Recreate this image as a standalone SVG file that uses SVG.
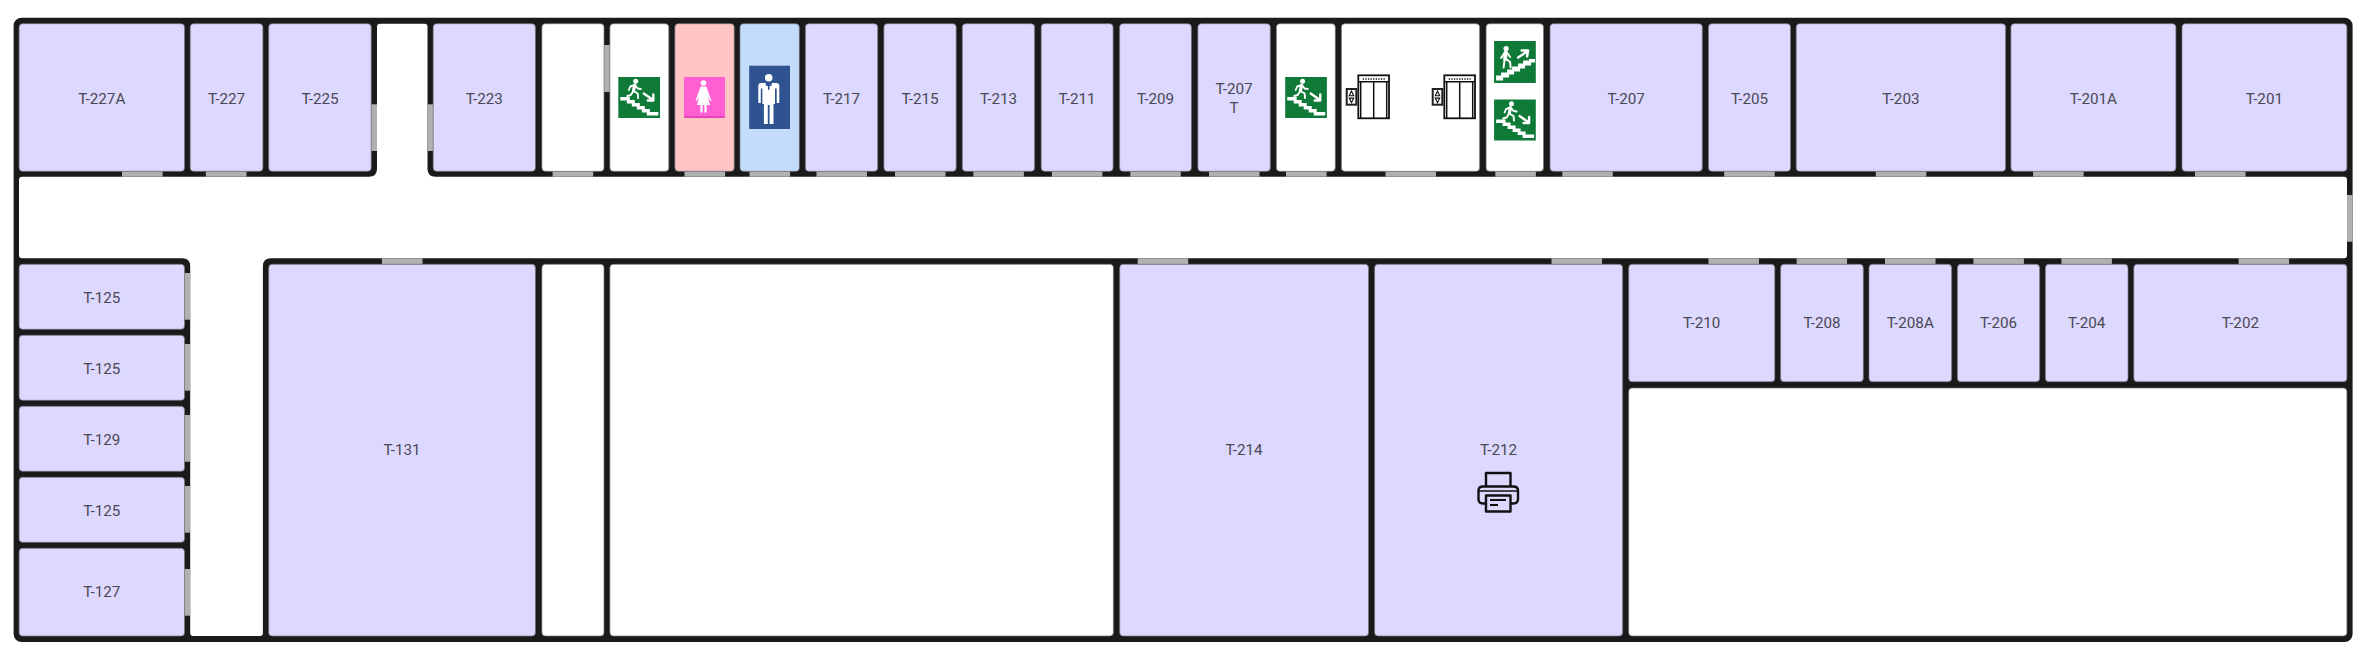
<svg xmlns="http://www.w3.org/2000/svg" xmlns:xlink="http://www.w3.org/1999/xlink" width="2366" height="660" viewBox="0 0 2366 660">
<style>
.r{fill:#dcd8fe}.w{fill:#fff}.p{fill:#ffc4c4}.b{fill:#c4dcfc}
.r,.w,.p,.b{stroke:#77757f;stroke-width:.7}
.d{fill:#b0b0b0}
text{font-family:Roboto,"Liberation Sans",sans-serif;font-size:15.2px;fill:#4a4855;text-anchor:middle}
.sw{fill:none;stroke:#fff;stroke-linecap:round;stroke-linejoin:round}
.k{fill:#fff;stroke:#111;stroke-width:1.8}
.pr{fill:none;stroke:#111;stroke-width:2.4;stroke-linejoin:round}
</style>
<defs>
<g id="exit-down">
<rect width="41.7" height="41" fill="#0f7a38"/>
<path fill="#fff" d="M2,20H11.5V23H16.5V26H21.5V29H26.5V32H31.5V35H40V38.5H28.5V35.5H23.5V32.5H18.5V29.5H13.5V26.5H8.5V23.5H2Z"/>
<circle cx="17.4" cy="4.3" r="2.5" fill="#fff"/>
<path class="sw" stroke-width="3.2" d="M16.5,8.2L15.2,13.5"/>
<path class="sw" stroke-width="1.9" d="M15,14L19.5,16.5L19.8,21M15,14L12.5,18L9,19M16.5,8L12,9.5L10.5,13M16.5,8L19.5,11.5L22.5,12"/>
<path class="sw" stroke-width="2.4" d="M25.5,16.5L34,22.5M35,17.5L35,23.5L29.5,23.5"/>
</g>
<g id="exit-up">
<rect width="41.7" height="42" fill="#0f7a38"/>
<path fill="#fff" d="M2,34.5H7V31.5H13V28.5H18V25.5H24V22.5H29V19.5H35V18H41V21.5H37V24.5H31V27.5H26V30.5H20V33.5H15V36.5H9V39.5H2Z"/>
<circle cx="12" cy="7.5" r="2.6" fill="#fff"/>
<path class="sw" stroke-width="3.8" d="M11.5,12L11,18"/>
<path class="sw" stroke-width="2" d="M10.5,18L9.5,26.5M12,18L16,21L16.5,26.5M11,11L7,17M12.5,11L16,16"/>
<path class="sw" stroke-width="2.4" d="M24,16.5L33,10.5M27.5,9.5L34,9.5L33,15.5"/>
</g>
<g id="lift">
<rect x="11.6" y="0" width="30.7" height="43" class="k"/>
<path fill="none" stroke="#111" stroke-width="1.5" d="M11.6,6.5H42.3M14,6.5V43M40,6.5V43M27,6.5V43"/>
<path fill="none" stroke="#111" stroke-width="1.6" stroke-dasharray="1.3 1.3" d="M16,3.7H38"/>
<rect x="0" y="13.7" width="9.6" height="15.7" fill="#fff" stroke="#222" stroke-width="2"/>
<path fill="none" stroke="#111" stroke-width="1.1" d="M4.8,15.8L2.6,20.5H7ZM4.8,27.4L2.6,22.8H7Z"/>
</g>
</defs>

<g id="walls">
<rect x="13.6" y="17.7" width="2339" height="624.3" rx="8" fill="#1a1a1a"/>
</g>

<g id="corridor">
<path fill="#fff" d="M377,26.7Q377,23.7 380,23.7H424.5Q427.5,23.7 427.5,26.7V168.7Q427.5,176.7 435.5,176.7H2344Q2347,176.7 2347,179.7V255.3Q2347,258.3 2344,258.3H270.9Q262.9,258.3 262.9,266.3V633Q262.9,636 259.9,636H193.2Q190.2,636 190.2,633V266.3Q190.2,258.3 182.2,258.3H22Q19,258.3 19,255.3V179.7Q19,176.7 22,176.7H369Q377,176.7 377,168.7Z"/>
</g>

<g id="doors">
<rect class="d" x="122" y="171.3" width="40.6" height="5.4"/>
<rect class="d" x="205.9" y="171.3" width="40.6" height="5.4"/>
<rect class="d" x="552.6" y="171.3" width="40.6" height="5.4"/>
<rect class="d" x="684.5" y="171.3" width="40.6" height="5.4"/>
<rect class="d" x="749.5" y="171.3" width="40.6" height="5.4"/>
<rect class="d" x="816.5" y="171.3" width="50.5" height="5.4"/>
<rect class="d" x="895" y="171.3" width="50.5" height="5.4"/>
<rect class="d" x="973.4" y="171.3" width="50.5" height="5.4"/>
<rect class="d" x="1051.9" y="171.3" width="50.5" height="5.4"/>
<rect class="d" x="1130.3" y="171.3" width="50.5" height="5.4"/>
<rect class="d" x="1209" y="171.3" width="50.5" height="5.4"/>
<rect class="d" x="1286" y="171.3" width="40.6" height="5.4"/>
<rect class="d" x="1385.5" y="171.3" width="50.5" height="5.4"/>
<rect class="d" x="1495.3" y="171.3" width="40.6" height="5.4"/>
<rect class="d" x="1562.3" y="171.3" width="50.5" height="5.4"/>
<rect class="d" x="1724.2" y="171.3" width="50.5" height="5.4"/>
<rect class="d" x="1875.8" y="171.3" width="50.5" height="5.4"/>
<rect class="d" x="2033.1" y="171.3" width="50.5" height="5.4"/>
<rect class="d" x="2195" y="171.3" width="50.5" height="5.4"/>
<rect class="d" x="381.9" y="258.3" width="40.6" height="5.7"/>
<rect class="d" x="1137.7" y="258.3" width="50.5" height="5.7"/>
<rect class="d" x="1551.5" y="258.3" width="50.5" height="5.7"/>
<rect class="d" x="1708.5" y="258.3" width="50.5" height="5.7"/>
<rect class="d" x="1796.6" y="258.3" width="50.5" height="5.7"/>
<rect class="d" x="1885" y="258.3" width="50.5" height="5.7"/>
<rect class="d" x="1973.4" y="258.3" width="50.5" height="5.7"/>
<rect class="d" x="2061.4" y="258.3" width="50.5" height="5.7"/>
<rect class="d" x="2238.6" y="258.3" width="50.5" height="5.7"/>
<rect class="d" x="371.2" y="104.3" width="5.8" height="46.7"/>
<rect class="d" x="427.5" y="104.3" width="5.7" height="46.7"/>
<rect class="d" x="604" y="45" width="5.9" height="47"/>
<rect class="d" x="2347" y="195" width="5.6" height="46.7"/>
<rect class="d" x="184.5" y="273" width="5.7" height="46.7"/>
<rect class="d" x="184.5" y="344" width="5.7" height="46.7"/>
<rect class="d" x="184.5" y="415" width="5.7" height="46.7"/>
<rect class="d" x="184.5" y="486" width="5.7" height="46.7"/>
<rect class="d" x="184.5" y="569" width="5.7" height="46.7"/>
</g>

<g id="room-T-227A"><rect class="r" x="19.1" y="23.7" width="165.4" height="147.6" rx="3.5"/><text x="101.8" y="103.5">T-227A</text></g>
<g id="room-T-227"><rect class="r" x="190.2" y="23.7" width="72.7" height="147.6" rx="3.5"/><text x="226.5" y="103.5">T-227</text></g>
<g id="room-T-225"><rect class="r" x="268.7" y="23.7" width="102.5" height="147.6" rx="3.5"/><text x="320" y="103.5">T-225</text></g>
<g id="room-T-223"><rect class="r" x="433.2" y="23.7" width="102.2" height="147.6" rx="3.5"/><text x="484.3" y="103.5">T-223</text></g>
<g id="room-blank-1"><rect class="w" x="541.9" y="23.7" width="62.1" height="147.6" rx="3.5"/></g>
<g id="room-stairs-1"><rect class="w" x="609.9" y="23.7" width="58.9" height="147.6" rx="3.5"/><use href="#exit-down" x="618.3" y="77"/></g>
<g id="room-wc-f"><rect class="p" x="674.9" y="23.7" width="59.3" height="147.6" rx="3.5"/>
<rect x="684" y="77" width="41" height="41" rx="1.5" fill="#e63fb8"/><rect x="684" y="77" width="41" height="39.3" rx="1.5" fill="#ff5fd3"/>
<circle cx="703.5" cy="83" r="2.8" fill="#fff"/>
<path fill="#fff" d="M700.5,86.5H706.5L709,94L711.5,100.5L710.2,101L707.8,96.5L710,105H706.6V112.5H704.4V105H702.6V112.5H700.4V105H697L699.2,96.5L696.8,101L695.5,100.5L698,94Z"/>
</g>
<g id="room-wc-m"><rect class="b" x="740" y="23.7" width="59.3" height="147.6" rx="3.5"/>
<rect x="749.2" y="65.7" width="40.8" height="63.3" fill="#2f5290"/>
<circle cx="768.7" cy="77.7" r="3.8" fill="#fff"/>
<path fill="#fff" d="M761,83H765.5L768.7,87L772,83H776.5Q779.3,83 779.3,86V103H776.7V88.5H775V104H773.5V124H769.6V105H767.8V124H763.9V104H762.4V88.5H760.8V103H758.3V86Q758.3,83 761,83Z"/>
<path fill="#2f5290" d="M765.8,82.5L768.7,84.5L771.6,82.5V86L769.7,85.6L769.3,90H768.1L767.7,85.6L765.8,86Z"/>
</g>
<g id="room-T-217"><rect class="r" x="805.4" y="23.7" width="72.3" height="147.6" rx="3.5"/><text x="841.5" y="103.5">T-217</text></g>
<g id="room-T-215"><rect class="r" x="883.9" y="23.7" width="72.3" height="147.6" rx="3.5"/><text x="920" y="103.5">T-215</text></g>
<g id="room-T-213"><rect class="r" x="962.3" y="23.7" width="72.3" height="147.6" rx="3.5"/><text x="998.5" y="103.5">T-213</text></g>
<g id="room-T-211"><rect class="r" x="1041.2" y="23.7" width="71.9" height="147.6" rx="3.5"/><text x="1077" y="103.5">T-211</text></g>
<g id="room-T-209"><rect class="r" x="1119.6" y="23.7" width="71.8" height="147.6" rx="3.5"/><text x="1155.5" y="103.5">T-209</text></g>
<g id="room-T-207T"><rect class="r" x="1197.9" y="23.7" width="72.4" height="147.6" rx="3.5"/><text x="1234" y="93.5">T-207</text><text x="1234" y="112.5">T</text></g>
<g id="room-stairs-2"><rect class="w" x="1276.4" y="23.7" width="58.9" height="147.6" rx="3.5"/><use href="#exit-down" x="1285.2" y="77"/></g>
<g id="room-lifts"><rect class="w" x="1341.4" y="23.7" width="138.2" height="147.6" rx="3.5"/><use href="#lift" x="1346.7" y="75.3"/><use href="#lift" x="1432.7" y="75.3"/></g>
<g id="room-stairs-3"><rect class="w" x="1486.1" y="23.7" width="57.4" height="147.6" rx="3.5"/><use href="#exit-up" x="1494.1" y="41"/><use href="#exit-down" x="1494.1" y="99.5"/></g>
<g id="room-T-207"><rect class="r" x="1550" y="23.7" width="152.3" height="147.6" rx="3.5"/><text x="1626.2" y="103.5">T-207</text></g>
<g id="room-T-205"><rect class="r" x="1708.5" y="23.7" width="82" height="147.6" rx="3.5"/><text x="1749.5" y="103.5">T-205</text></g>
<g id="room-T-203"><rect class="r" x="1796.2" y="23.7" width="209.4" height="147.6" rx="3.5"/><text x="1900.9" y="103.5">T-203</text></g>
<g id="room-T-201A"><rect class="r" x="2010.9" y="23.7" width="165" height="147.6" rx="3.5"/><text x="2093.4" y="103.5">T-201A</text></g>
<g id="room-T-201"><rect class="r" x="2182" y="23.7" width="164.9" height="147.6" rx="3.5"/><text x="2264.4" y="103.5">T-201</text></g>

<g id="room-T-125-a"><rect class="r" x="19.1" y="264.3" width="165.4" height="65" rx="3.5"/><text x="101.8" y="302.5">T-125</text></g>
<g id="room-T-125-b"><rect class="r" x="19.1" y="335.3" width="165.4" height="65" rx="3.5"/><text x="101.8" y="373.5">T-125</text></g>
<g id="room-T-129"><rect class="r" x="19.1" y="406.3" width="165.4" height="65" rx="3.5"/><text x="101.8" y="444.5">T-129</text></g>
<g id="room-T-125-c"><rect class="r" x="19.1" y="477.3" width="165.4" height="65" rx="3.5"/><text x="101.8" y="515.5">T-125</text></g>
<g id="room-T-127"><rect class="r" x="19.1" y="548.3" width="165.4" height="87.7" rx="3.5"/><text x="101.8" y="597.3">T-127</text></g>
<g id="room-T-131"><rect class="r" x="268.7" y="264.3" width="266.7" height="371.7" rx="3.5"/><text x="402" y="455.3">T-131</text></g>
<g id="room-blank-2"><rect class="w" x="541.9" y="264.3" width="62.1" height="371.7" rx="3.5"/></g>
<g id="room-blank-3"><rect class="w" x="609.9" y="264.3" width="503.5" height="371.7" rx="3.5"/></g>
<g id="room-T-214"><rect class="r" x="1119.7" y="264.3" width="248.8" height="371.7" rx="3.5"/><text x="1244" y="455.3">T-214</text></g>
<g id="room-T-212"><rect class="r" x="1374.6" y="264.3" width="248" height="371.7" rx="3.5"/><text x="1498.6" y="455.3">T-212</text>
<g class="pr"><path d="M1486,486.5V473H1510.5V486.5"/><path d="M1486,503.5H1483Q1478.5,503.5 1478.5,499V490.5Q1478.5,486.5 1483,486.5H1513.5Q1518,486.5 1518,490.5V499Q1518,503.5 1513.5,503.5H1510.5"/><path d="M1479,491H1517.5" stroke-width="1.4"/><path d="M1486,495.5H1510.5V511.5H1486Z"/><path d="M1490,500H1506M1490,505H1498" stroke-width="1.8"/></g>
</g>
<g id="room-T-210"><rect class="r" x="1628.7" y="264.3" width="146.1" height="117.4" rx="3.5"/><text x="1701.7" y="328">T-210</text></g>
<g id="room-T-208"><rect class="r" x="1780.6" y="264.3" width="82.7" height="117.4" rx="3.5"/><text x="1822" y="328">T-208</text></g>
<g id="room-T-208A"><rect class="r" x="1869" y="264.3" width="82.6" height="117.4" rx="3.5"/><text x="1910.3" y="328">T-208A</text></g>
<g id="room-T-206"><rect class="r" x="1957.4" y="264.3" width="82.2" height="117.4" rx="3.5"/><text x="1998.5" y="328">T-206</text></g>
<g id="room-T-204"><rect class="r" x="2045.4" y="264.3" width="82.6" height="117.4" rx="3.5"/><text x="2086.7" y="328">T-204</text></g>
<g id="room-T-202"><rect class="r" x="2133.8" y="264.3" width="213.1" height="117.4" rx="3.5"/><text x="2240.4" y="328">T-202</text></g>
<g id="room-blank-4"><rect class="w" x="1628.7" y="388" width="718.2" height="248" rx="3.5"/></g>
</svg>
